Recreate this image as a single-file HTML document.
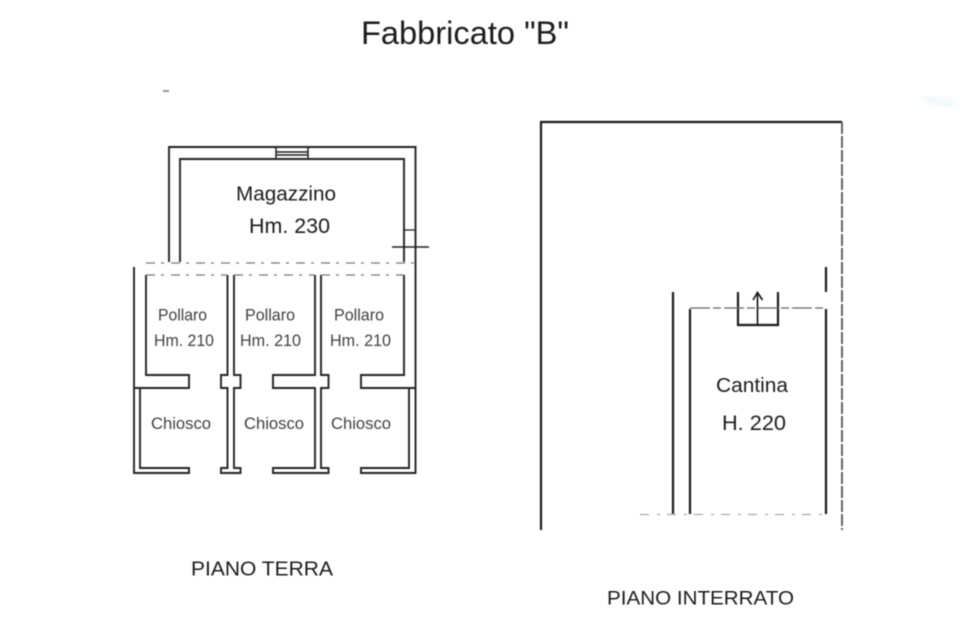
<!DOCTYPE html>
<html><head><meta charset="utf-8"><style>
html,body{margin:0;padding:0;background:#fff;width:960px;height:640px;overflow:hidden}
svg{display:block}
text{font-family:"Liberation Sans",sans-serif;fill:#1c1c1c}
.w{fill:none;stroke:#222;stroke-width:1.9}
.d{fill:none;stroke:#777;stroke-width:1.2;stroke-dasharray:9 6 3 7}
.l{fill:none;stroke:#1a1a1a;stroke-width:2.2}
</style></head><body>
<svg width="960" height="640" viewBox="0 0 960 640" xmlns="http://www.w3.org/2000/svg">
<defs><filter id="b"><feGaussianBlur stdDeviation="0.45"/></filter><filter id="s"><feGaussianBlur stdDeviation="3"/></filter></defs>
<rect width="960" height="640" fill="#fff"/>
<path d="M922 97l36 9" stroke="#eff8fa" stroke-width="7" filter="url(#s)"/>
<g filter="url(#b)">
<text x="361" y="44" font-size="32.500" textLength="208" lengthAdjust="spacingAndGlyphs">Fabbricato "B"</text>
<path d="M163 91h6" stroke="#777" stroke-width="1.500"/>

<!-- Magazzino -->
<path class="w" d="M169 262V147H415.500V262"/>
<path class="w" d="M180 262V159H404V262"/>
<path class="w" style="stroke-width:1.500" d="M276 147V159M308 147V159M276 152H308M276 155H308"/>
<path class="w" style="stroke-width:1.300" d="M404 230H415"/>
<path class="w" style="stroke-width:1.500" d="M392 247H429"/>
<path class="d" d="M146 263H415"/>
<path class="d" d="M146 275H227M234 275H315M321 275H404"/>

<!-- Ground floor walls -->
<path class="w" d="M134 267V473H189V468H140V388H134M134 388H189V375H146V275"/>
<path class="w" d="M227.500 275V375H221V388H227.500V468H221V473H240.500V468H234V388H240.500V375H234V275"/>
<path class="w" d="M315 275V375H273V388H315V468H273V473H328.500V468H321V388H328.500V375H321V275"/>
<path class="w" d="M404 275V375H361V388H415.500V473H361V468H409V388"/>
<path class="w" d="M415.500 262V388"/>

<text x="236" y="200.500" font-size="20.500" textLength="100" lengthAdjust="spacingAndGlyphs">Magazzino</text>
<text x="249" y="233" font-size="21" textLength="81" lengthAdjust="spacingAndGlyphs">Hm. 230</text>

<g font-size="17" fill-opacity="0.85">
<text x="158" y="320.500" textLength="49" lengthAdjust="spacingAndGlyphs">Pollaro</text>
<text x="154" y="346" textLength="60" lengthAdjust="spacingAndGlyphs">Hm. 210</text>
<text x="245" y="320.500" textLength="50" lengthAdjust="spacingAndGlyphs">Pollaro</text>
<text x="240" y="346" textLength="61" lengthAdjust="spacingAndGlyphs">Hm. 210</text>
<text x="334" y="320.500" textLength="50" lengthAdjust="spacingAndGlyphs">Pollaro</text>
<text x="330" y="346" textLength="61" lengthAdjust="spacingAndGlyphs">Hm. 210</text>
<text x="151" y="429" textLength="60" lengthAdjust="spacingAndGlyphs">Chiosco</text>
<text x="244" y="429" textLength="60" lengthAdjust="spacingAndGlyphs">Chiosco</text>
<text x="331" y="429" textLength="60" lengthAdjust="spacingAndGlyphs">Chiosco</text>
</g>
<text x="191" y="575.500" font-size="20.500" textLength="142" lengthAdjust="spacingAndGlyphs">PIANO TERRA</text>

<!-- Right plan -->
<path class="l" d="M541 530V122H842"/>
<path d="M842 122V530" fill="none" stroke="#555" stroke-width="1.800" stroke-dasharray="12 2"/>
<path class="l" d="M673 292V514"/>
<path class="l" d="M690 514V309"/>
<path class="l" d="M826 514V309"/>
<path class="l" d="M826 267V292"/>
<path class="l" d="M738 292V325H778V292"/>
<path class="l" style="stroke-width:1.700" d="M757.500 325V293M753 300L757.500 292.500L762.500 300"/>
<path d="M690 308H826" fill="none" stroke="#666" stroke-width="1.300" stroke-dasharray="20 3 8 3"/>
<path d="M640 514.500H826" fill="none" stroke="#aaa" stroke-width="1.200" stroke-dasharray="9 8 3 7"/>
<text x="716" y="392" font-size="20.500" textLength="72" lengthAdjust="spacingAndGlyphs">Cantina</text>
<text x="722" y="430" font-size="21.500" textLength="64" lengthAdjust="spacingAndGlyphs">H. 220</text>
<text x="607" y="604.500" font-size="19" textLength="187" lengthAdjust="spacingAndGlyphs">PIANO INTERRATO</text>
</g>
</svg>
</body></html>
